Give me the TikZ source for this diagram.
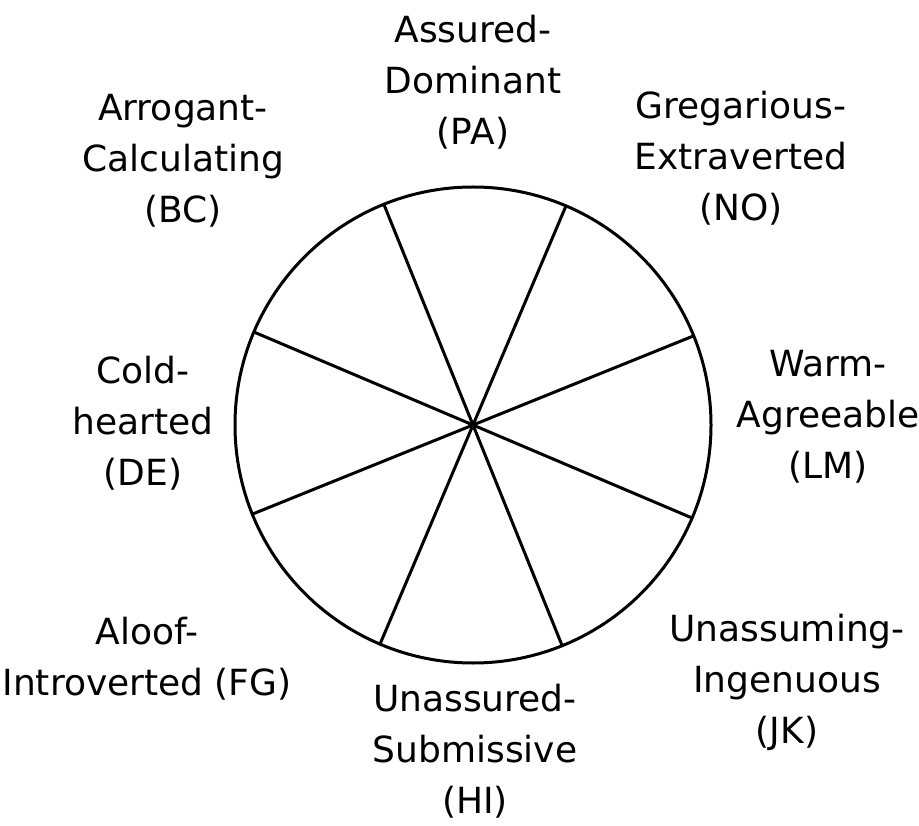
\documentclass[tikz,border=0pt]{standalone}
\usepackage{fontspec}
\setmainfont{DejaVu Sans}
\usetikzlibrary{positioning}

\begin{document}
\begin{tikzpicture}[
x=1pt,y=-1pt,
wheelbox/.style={circle,draw,line width=3pt,minimum size=476pt,inner sep=0pt,outer sep=0pt},
spoke/.style={line width=3pt},
octant/.style={align=center,inner sep=0pt,font=\fontsize{36}{51}\selectfont}
]
\useasboundingbox (0,0) rectangle (919,826);
\node[wheelbox] (wheel) at (473,425) {};
\foreach \a [evaluate=\a as \b using \a+180] in {22.5,67.5,112.5,157.5}
  \draw[spoke] (wheel.\a) -- (wheel.\b);
% octant labels
\node[octant] (pa) at (473,82) {Assured-\\Dominant\\(PA)};
\node[octant] (no) at (741,158) {Gregarious-\\Extraverted\\(NO)};
\node[octant] (lm) at (828,417) {Warm-\\Agreeable\\(LM)};
\node[octant] (jk) at (787,682) {Unassuming-\\Ingenuous\\(JK)};
\node[octant] (hi) at (475,751) {Unassured-\\Submissive\\(HI)};
\node[octant] (fg) at (147,659) {Aloof-\\Introverted (FG)};
\node[octant] (de) at (143,423) {Cold-\\hearted\\(DE)};
\node[octant] (bc) at (183,161) {Arrogant-\\Calculating\\(BC)};
\end{tikzpicture}
\end{document}
